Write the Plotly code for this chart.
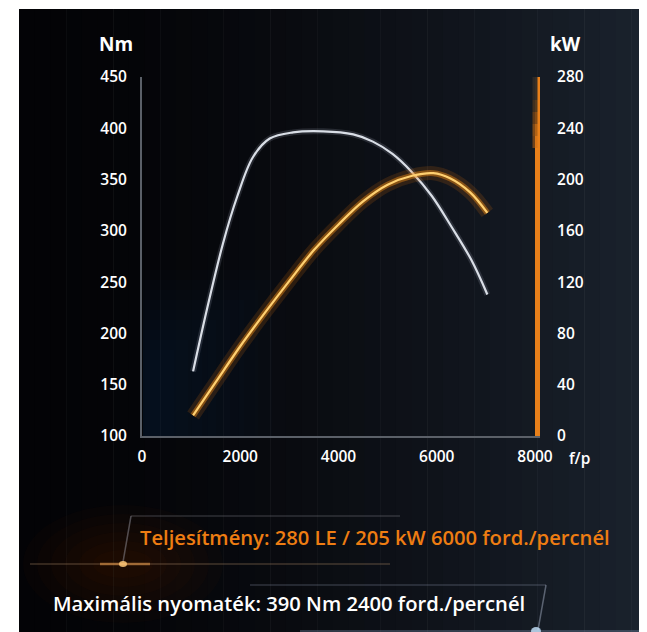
import plotly.graph_objects as go

# ---- data ----
torque_rpm = [1040, 1320, 1650, 1935, 2260, 2600, 3075, 3690, 4300, 4700, 5100, 5500, 5900, 6300, 6700, 7030]
torque_nm  = [163, 223, 288, 333, 372, 390, 396, 397, 394, 387, 375, 357, 334, 304, 272, 238]

power_rpm = [1040, 1500, 2000, 2500, 3000, 3500, 4000, 4500, 5000, 5500, 5930, 6270, 6680, 7030]
power_kw  = [16, 42, 70, 96, 121, 145, 165, 183, 196, 203, 205, 201, 190, 174]

x_ticks = [0, 2000, 4000, 6000, 8000]
y_ticks_nm = [100, 150, 200, 250, 300, 350, 400, 450]
y_ticks_kw = [0, 40, 80, 120, 160, 200, 240, 280]

label_power = "Teljesítmény: 280 LE / 205 kW 6000 ford./percnél"
label_torque = "Maximális nyomaték: 390 Nm 2400 ford./percnél"

# ---- layout geometry (page has an 8px body margin) ----
OFF = 8
W, H = 647 - OFF, 632 - OFF
PX0, PX1, PY0, PY1 = 142, 535, 77, 436   # plot area in screen pixels
L, T = PX0 - OFF, PY0 - OFF
R, B = W - (PX1 - OFF), H - (PY1 - OFF)
PW = PX1 - PX0
PH = PY1 - PY0


def px(x):
    return (x - PX0) / PW


def py(y):
    return (PY1 - y) / PH


FONT = "Open Sans"

fig = go.Figure()

fig.add_trace(go.Scatter(x=torque_rpm, y=torque_nm, mode="lines", line=dict(color="rgba(200,210,230,0.15)", width=6, shape="spline"), hoverinfo="skip", showlegend=False))
fig.add_trace(go.Scatter(x=torque_rpm, y=torque_nm, mode="lines", line=dict(color="#d9dee6", width=2.2, shape="spline"), name="Nm", showlegend=False))
fig.add_trace(go.Scatter(x=power_rpm, y=power_kw, mode="lines", yaxis="y2", line=dict(color="rgba(230,120,10,0.16)", width=14, shape="spline"), hoverinfo="skip", showlegend=False))
fig.add_trace(go.Scatter(x=power_rpm, y=power_kw, mode="lines", yaxis="y2", line=dict(color="rgba(240,140,20,0.45)", width=6, shape="spline"), hoverinfo="skip", showlegend=False))
fig.add_trace(go.Scatter(x=power_rpm, y=power_kw, mode="lines", yaxis="y2", line=dict(color="#ffd070", width=2.2, shape="spline"), name="kW", showlegend=False))

shapes = []
# background gradient
x0p, x1p = 19, 647
y0p, y1p = 9, 632
n = 40
c0 = (3, 3, 6)
c1 = (26, 34, 45)
for i in range(n):
    a = x0p + (x1p - x0p) * i / n
    b = x0p + (x1p - x0p) * (i + 1) / n + 0.6
    t = (i / (n - 1)) ** 1.6
    col = "rgb(%d,%d,%d)" % tuple(round(c0[k] + (c1[k] - c0[k]) * t) for k in range(3))
    shapes.append(dict(type="rect", xref="paper", yref="paper", x0=px(a), x1=px(b), y0=py(y1p), y1=py(y0p), fillcolor=col, line=dict(width=0), layer="below"))
# warm haze around the orange glow point (kept inside the dark panel)
for i in range(6):
    rx = 30 + i * 14
    ry = 14 + i * 9
    shapes.append(dict(type="circle", xref="paper", yref="paper", x0=px(123 - rx), x1=px(123 + rx), y0=py(564 + ry), y1=py(564 - ry),
                       fillcolor="rgba(120,60,10,0.04)", line=dict(width=0), layer="below"))
# soft bluish tint at bottom-left of the plot area
for i in range(10):
    shapes.append(dict(type="rect", xref="paper", yref="paper", x0=px(143), x1=px(160 + i * 14), y0=py(436), y1=py(360 - i * 10),
                       fillcolor="rgba(50,70,130,0.025)", line=dict(width=0), layer="below"))
# right axis bar fades to dark at its top
fade = [(77, 100, "rgba(45,42,40,0.95)"), (100, 112, "rgba(70,50,30,0.9)"), (112, 124, "rgba(110,65,22,0.85)"), (124, 136, "rgba(160,88,20,0.75)"), (136, 148, "rgba(200,105,20,0.5)")]
for ya, yb, col in fade:
    shapes.append(dict(type="line", xref="paper", yref="paper", x0=1, x1=1, y0=py(yb), y1=py(ya), line=dict(color=col, width=5)))
# frame for the power label
shapes.append(dict(type="line", xref="paper", yref="paper", x0=px(131), x1=px(400), y0=py(516), y1=py(516), line=dict(color="rgba(140,140,150,0.3)", width=1.5)))
shapes.append(dict(type="line", xref="paper", yref="paper", x0=px(131), x1=px(123), y0=py(516), y1=py(562), line=dict(color="rgba(160,160,170,0.45)", width=1.5)))
shapes.append(dict(type="line", xref="paper", yref="paper", x0=px(30), x1=px(390), y0=py(564), y1=py(564), line=dict(color="rgba(150,120,90,0.3)", width=2)))
shapes.append(dict(type="line", xref="paper", yref="paper", x0=px(100), x1=px(150), y0=py(564), y1=py(564), line=dict(color="rgba(255,170,80,0.5)", width=2.5)))
shapes.append(dict(type="circle", xref="paper", yref="paper", x0=px(119), x1=px(127), y0=py(561), y1=py(567), fillcolor="rgba(255,200,120,0.85)", line=dict(width=0)))
# frame for the torque label
shapes.append(dict(type="line", xref="paper", yref="paper", x0=px(250), x1=px(546), y0=py(585), y1=py(585), line=dict(color="rgba(140,150,170,0.3)", width=1.5)))
shapes.append(dict(type="line", xref="paper", yref="paper", x0=px(546), x1=px(538), y0=py(585), y1=py(630), line=dict(color="rgba(160,170,190,0.5)", width=1.5)))
shapes.append(dict(type="line", xref="paper", yref="paper", x0=px(300), x1=px(640), y0=py(631), y1=py(631), line=dict(color="rgba(120,140,170,0.35)", width=2)))
shapes.append(dict(type="circle", xref="paper", yref="paper", x0=px(531), x1=px(541), y0=py(627), y1=py(635), fillcolor="rgba(200,230,255,0.8)", line=dict(width=0)))

tickfont = dict(family=FONT, size=15.5, color="white", weight=600)

annotations = [
    dict(text="Nm", x=px(116), y=py(44), xref="paper", yref="paper", showarrow=False, font=dict(family=FONT, size=19, color="white", weight=700), xanchor="center", yanchor="middle"),
    dict(text="kW", x=px(565), y=py(44), xref="paper", yref="paper", showarrow=False, font=dict(family=FONT, size=19, color="white", weight=700), xanchor="center", yanchor="middle"),
    dict(text="f/p", x=px(579), y=py(458), xref="paper", yref="paper", showarrow=False, font=tickfont, xanchor="center", yanchor="middle"),
    dict(text=label_power, x=px(375), y=py(537), xref="paper", yref="paper", showarrow=False, font=dict(family=FONT, size=20.2, color="#ee7d12", weight=600), xanchor="center", yanchor="middle"),
    dict(text=label_torque, x=px(289), y=py(603), xref="paper", yref="paper", showarrow=False, font=dict(family=FONT, size=20.2, color="white", weight=600), xanchor="center", yanchor="middle"),
]

fig.update_layout(
    width=W, height=H,
    margin=dict(l=L, r=R, t=T, b=B, pad=0),
    paper_bgcolor="white",
    plot_bgcolor="rgba(0,0,0,0)",
    showlegend=False,
    shapes=shapes,
    annotations=annotations,
    xaxis=dict(range=[0, 8000], tickvals=x_ticks, ticktext=[str(v) for v in x_ticks], showgrid=False, zeroline=False,
               showline=True, linecolor="#5b6068", linewidth=2, ticks="", tickfont=tickfont, ticklabelstandoff=5),
    yaxis=dict(range=[100, 450], tickvals=y_ticks_nm, showgrid=False, zeroline=False,
               showline=True, linecolor="#5b6068", linewidth=2, ticks="", tickfont=tickfont, ticklabelstandoff=10),
    yaxis2=dict(range=[0, 280], tickvals=y_ticks_kw, overlaying="y", side="right", showgrid=False, zeroline=False,
                showline=True, linecolor="#e8801a", linewidth=5, ticks="", tickfont=tickfont, ticklabelstandoff=14),
)

fig.write_html("out.html")
